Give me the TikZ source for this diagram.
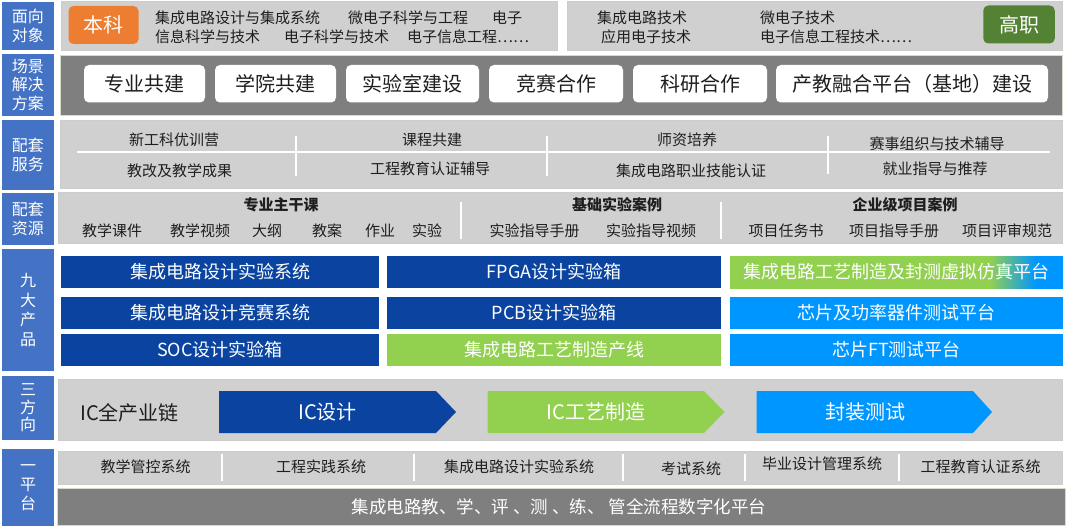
\documentclass[tikz,border=0pt]{standalone}
\usepackage{fontspec}
\setmainfont{Noto Sans CJK SC}
\newcommand\myfs[2]{\fontsize{#1}{#2}\selectfont}
\definecolor{lblue}{HTML}{4472C4}
\definecolor{lgray}{HTML}{D0D0D0}
\definecolor{dgray}{HTML}{7F7F7F}
\definecolor{orng}{HTML}{ED7D31}
\definecolor{dgreen}{HTML}{548235}
\definecolor{pblue}{HTML}{0A44A0}
\definecolor{pgreen}{HTML}{92D050}
\definecolor{sblue}{HTML}{0096FF}
\definecolor{txt}{HTML}{1E1E1E}
\definecolor{bordgreen}{HTML}{D3DDC8}
\pgfdeclarehorizontalshading{gbshade}{100bp}{color(0bp)=(pgreen); color(64bp)=(pgreen); color(71bp)=(sblue); color(100bp)=(sblue)}
\begin{document}
\begin{tikzpicture}[x=1pt,y=-1pt,
  lab/.style={fill=lblue,text=white,font=\myfs{16}{18.5},align=center,inner sep=0pt,minimum width=52pt},
  gbox/.style={fill=lgray,draw=black!20,line width=0.5pt,inner sep=0pt},
  dbox/.style={fill=dgray,draw=bordgreen,line width=1pt,inner sep=0pt},
  wbtn/.style={fill=white,rounded corners=5pt,inner sep=0pt,minimum height=37.5pt,font=\myfs{20}{20},text=txt},
  tag/.style={rounded corners=5pt,inner sep=0pt,minimum height=38pt,font=\myfs{20}{20},text=white},
  sm/.style={font=\myfs{15}{15},text=txt,inner sep=0pt},
  smb/.style={font=\myfs{15}{15}\bfseries,text=txt,inner sep=0pt},
  prod/.style={inner sep=0pt,minimum height=32pt,text=white,font=\myfs{18}{18}},
  arr/.style={text=white,font=\myfs{20}{20},inner sep=0pt},
  sep/.style={white,line width=1.2pt}
]
\useasboundingbox[fill=white] (0,0) rectangle (1080,527);

% ---- left labels
\node[lab,minimum height=48pt] (l1) at (28,26) {面向\\对象};
\node[lab,minimum height=62pt] (l2) at (28,85) {场景\\解决\\方案};
\node[lab,minimum height=70pt] (l3) at (28,155) {配套\\服务};
\node[lab,minimum height=52pt] (l4) at (28,219) {配套\\资源};
\node[lab,minimum height=122pt,font=\myfs{16}{19.5}] (l5) at (28,310) {九\\大\\产\\品};
\node[lab,minimum height=64pt,font=\myfs{16}{17.5}] (l6) at (28,408) {三\\方\\向};
\node[lab,minimum height=77pt,font=\myfs{16}{19}] (l7) at (28,487.5) {一\\平\\台};

% ---- row 1
\node[gbox,minimum width=496pt,minimum height=49pt] (r1a) at (309,25.5) {};
\node[gbox,minimum width=495pt,minimum height=49pt] (r1b) at (814.5,25.5) {};
\node[tag,fill=orng,minimum width=70pt] (bk) at (103.5,25) {本科};
\node[tag,fill=dgreen,minimum width=71.5pt] (gz) at (1019,24.5) {高职};
\node[sm,anchor=west] (t11) at (155,17.5) {集成电路设计与集成系统};
\node[sm,anchor=west] (t12) at (348,17.5) {微电子科学与工程};
\node[sm,anchor=west] (t13) at (492,17.5) {电子};
\node[sm,anchor=west] (t14) at (155,36.5) {信息科学与技术};
\node[sm,anchor=west] (t15) at (284,36.5) {电子科学与技术};
\node[sm,anchor=west] (t16) at (407,36.5) {电子信息工程……};
\node[sm,anchor=west] (t17) at (597,17.5) {集成电路技术};
\node[sm,anchor=west] (t18) at (760,17.5) {微电子技术};
\node[sm,anchor=west] (t19) at (601,36.5) {应用电子技术};
\node[sm,anchor=west] (t1a) at (760,36.5) {电子信息工程技术……};

% ---- row 2
\node[dbox,minimum width=1002pt,minimum height=60.5pt] (r2) at (561,85.75) {};
\node[wbtn,minimum width=121pt] (b1) at (144.5,83.75) {专业共建};
\node[wbtn,minimum width=121pt] (b2) at (275.5,83.75) {学院共建};
\node[wbtn,minimum width=133pt] (b3) at (412.5,83.75) {实验室建设};
\node[wbtn,minimum width=134pt] (b4) at (556,83.75) {竞赛合作};
\node[wbtn,minimum width=134pt] (b5) at (700,83.75) {科研合作};
\node[wbtn,minimum width=272pt] (b6) at (912,83.75) {产教融合平台（基地）建设};

% ---- row 3
\node[gbox,minimum width=1002pt,minimum height=68pt] (r3) at (561,154) {};
\draw[sep] (77,152) -- (1050,152);
\draw[sep] (296,136) -- (296,176);
\draw[sep] (547,136) -- (547,176);
\draw[sep] (828,136) -- (828,174);
\node[sm] (s1) at (174,140) {新工科优训营};
\node[sm] (s2) at (179.5,171) {教改及教学成果};
\node[sm] (s3) at (432,140) {课程共建};
\node[sm] (s4) at (430,169) {工程教育认证辅导};
\node[sm] (s5) at (687,140) {师资培养};
\node[sm] (s6) at (691,171) {集成电路职业技能认证};
\node[sm] (s7) at (937,144) {赛事组织与技术辅导};
\node[sm] (s8) at (935,169) {就业指导与推荐};

% ---- row 4
\node[gbox,minimum width=1004pt,minimum height=51pt] (r4) at (560,218) {};
\draw[sep] (461,202) -- (461,239);
\draw[sep] (721,202) -- (721,239);
\node[smb] (h1) at (281,205) {专业主干课};
\node[smb] (h2) at (617,205) {基础实验案例};
\node[smb] (h3) at (905,205) {企业级项目案例};
\node[sm] (c1) at (112,231) {教学课件};
\node[sm] (c2) at (200,231) {教学视频};
\node[sm] (c3) at (267,231) {大纲};
\node[sm] (c4) at (327,231) {教案};
\node[sm] (c5) at (380,231) {作业};
\node[sm] (c6) at (427,231) {实验};
\node[sm] (c7) at (534.5,231) {实验指导手册};
\node[sm] (c8) at (651,231) {实验指导视频};
\node[sm] (c9) at (786,231) {项目任务书};
\node[sm] (ca) at (894,231) {项目指导手册};
\node[sm] (cb) at (1007,231) {项目评审规范};

% ---- row 5 products
\node[prod,fill=pblue,minimum width=318pt] (p1) at (220,272) {集成电路设计实验系统};
\node[prod,fill=pblue,minimum width=318pt] (p2) at (220,312.5) {集成电路设计竞赛系统};
\node[prod,fill=pblue,minimum width=318pt] (p3) at (220,349.5) {SOC设计实验箱};
\node[prod,fill=pblue,minimum width=334pt] (p4) at (554,272) {FPGA设计实验箱};
\node[prod,fill=pblue,minimum width=334pt] (p5) at (554,312.5) {PCB设计实验箱};
\node[prod,fill=pgreen,minimum width=334pt] (p6) at (554,349.5) {集成电路工艺制造产线};
\node[prod,shading=gbshade,minimum width=333pt] (p7) at (896.5,272) {集成电路工艺制造及封测虚拟仿真平台};
\node[prod,fill=sblue,minimum width=333pt] (p8) at (896.5,312.5) {芯片及功率器件测试平台};
\node[prod,fill=sblue,minimum width=333pt] (p9) at (896.5,349.5) {芯片FT测试平台};

% ---- row 6
\node[gbox,minimum width=1004pt,minimum height=61pt] (r6) at (560,409.5) {};
\node[font=\myfs{20}{20},text=txt,inner sep=0pt,anchor=west] (ic) at (80,413) {IC全产业链};
\fill[pblue] (219,391) -- (436,391) -- (456,412) -- (436,433) -- (219,433) -- cycle;
\fill[pgreen] (487.5,391) -- (704,391) -- (724.5,412) -- (704,433) -- (487.5,433) -- cycle;
\fill[sblue] (756.5,391) -- (973,391) -- (992,412) -- (973,433) -- (756.5,433) -- cycle;
\node[arr] (a1) at (327.5,412) {IC设计};
\node[arr] (a2) at (596,412) {IC工艺制造};
\node[arr] (a3) at (865,412) {封装测试};

% ---- row 7
\node[gbox,minimum width=1004pt,minimum height=33pt] (r7) at (560,467.5) {};
\draw[sep] (222,454) -- (222,481);
\draw[sep] (414,454) -- (414,481);
\draw[sep] (623,454) -- (623,481);
\draw[sep] (745,454) -- (745,481);
\draw[sep] (899,454) -- (899,481);
\node[sm] (m1) at (145.5,467) {教学管控系统};
\node[sm] (m2) at (321,467) {工程实践系统};
\node[sm] (m3) at (519,467) {集成电路设计实验系统};
\node[sm] (m4) at (691,469) {考试系统};
\node[sm] (m5) at (822,464) {毕业设计管理系统};
\node[sm] (m6) at (980.5,467) {工程教育认证系统};
\node[dbox,minimum width=1008pt,minimum height=37pt] (r8) at (561,506.5) {};
\node[font=\myfs{17.5}{17.5},text=white,inner sep=0pt] (plat) at (559,506.5) {集成电路教、学、评 、测 、练、 管全流程数字化平台};
\end{tikzpicture}
\end{document}
